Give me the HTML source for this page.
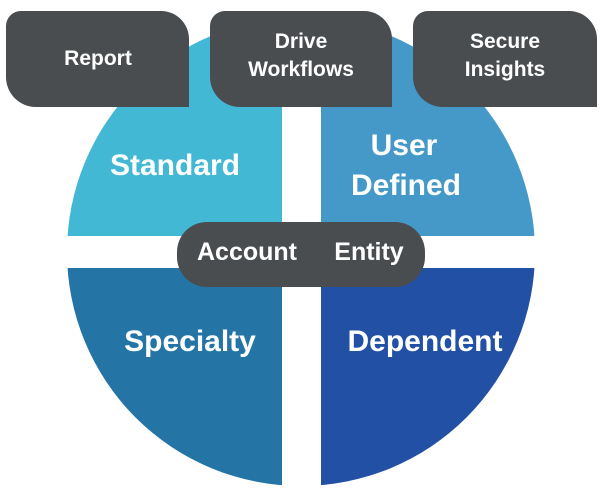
<!DOCTYPE html>
<html><head><meta charset="utf-8"><style>
html,body{margin:0;padding:0;background:#fff;}
svg{display:block}
text{font-family:"Liberation Sans",sans-serif;font-weight:bold;fill:#fff;text-anchor:middle;}
</style></head><body>
<svg width="600" height="489" viewBox="0 0 600 489">
<defs>
<clipPath id="c"><circle cx="301" cy="252" r="234"/></clipPath>
</defs>
<g clip-path="url(#c)">
<rect x="60" y="0" width="222" height="236" fill="#42b8d5"/>
<rect x="321" y="0" width="220" height="236" fill="#4499c9"/>
<rect x="60" y="268" width="222" height="230" fill="#2475a5"/>
<rect x="321" y="268" width="220" height="230" fill="#2150a4"/>
</g>
<path d="M21 11 H161 A28 28 0 0 1 189 39 V107 H36 A30 30 0 0 1 6 77 V26 A15 15 0 0 1 21 11Z" fill="#4a4d50"/>
<path d="M225 11 H364 A28 28 0 0 1 392 39 V107 H240 A30 30 0 0 1 210 77 V26 A15 15 0 0 1 225 11Z" fill="#4a4d50"/>
<path d="M428 11 H569 A28 28 0 0 1 597 39 V107 H443 A30 30 0 0 1 413 77 V26 A15 15 0 0 1 428 11Z" fill="#4a4d50"/>
<rect x="177" y="222" width="248" height="65" rx="30" fill="#4a4d50"/>
<text x="98" y="65" font-size="21">Report</text>
<text x="301" y="48" font-size="21">Drive</text>
<text x="301" y="76" font-size="21">Workflows</text>
<text x="505" y="48" font-size="21">Secure</text>
<text x="505" y="76" font-size="21">Insights</text>
<text x="175" y="175" font-size="30">Standard</text>
<text x="404" y="155" font-size="30">User</text>
<text x="406" y="195" font-size="30">Defined</text>
<text x="190" y="351" font-size="30">Specialty</text>
<text x="425" y="351" font-size="30">Dependent</text>
<text x="247" y="260" font-size="25">Account</text>
<text x="369" y="260" font-size="25">Entity</text>
</svg>
</body></html>
